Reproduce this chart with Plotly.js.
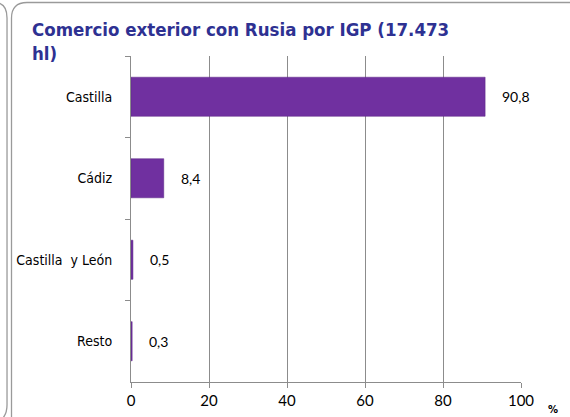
<!DOCTYPE html>
<html>
<head>
<meta charset="utf-8">
<script src="https://cdn.plot.ly/plotly-3.0.1.min.js"></script>
<style>html,body{margin:0;padding:0;background:#fff;}#chart{width:570px;height:417px;}</style>
</head>
<body>
<div id="chart"></div>
<script>
const categories = ['Castilla', 'Cádiz', 'Castilla  y León', 'Resto'];
const shares = [90.8, 8.4, 0.5, 0.3];
const xTicks = [0, 20, 40, 60, 80, 100];

const W = 570, H = 417;
const L = 131, R = 521, T = 56, B = 382;
function px(x){ return (x - L) / (R - L); }
function py(y){ return (B - y) / (B - T); }

const labelFont = {family: 'Lato, "Liberation Sans", sans-serif', size: 14, color: '#000'};

const trace = {
  type: 'bar',
  orientation: 'h',
  y: categories,
  x: shares,
  width: 0.48,
  marker: {color: '#7030a0', line: {color: '#5b2585', width: 0.5}},
  hoverinfo: 'skip'
};

const annotations = shares.map((v, i) => ({
  x: v, y: categories[i], xref: 'x', yref: 'y',
  text: String(v).replace('.', ','),
  showarrow: false, xanchor: 'left', xshift: 15,
  font: labelFont
}));
annotations.push({
  x: px(553), y: py(409), xref: 'paper', yref: 'paper',
  text: '<b>%</b>', showarrow: false, xanchor: 'center', yanchor: 'middle',
  font: {family: '"DejaVu Sans", sans-serif', size: 10, color: '#000'}
});

function P(x, y){ return px(x).toFixed(4) + ',' + py(y).toFixed(4); }
const frame = 'M' + P(11.5, 440) + ' L' + P(11.5, 18) + ' Q' + P(11.5, 2.5) + ' ' + P(27, 2.5) + ' L' + P(600, 2.5);
const leftBox = 'M' + P(-5, 2.5) + ' Q' + P(7, 3) + ' ' + P(7, 18) + ' L' + P(7, 405) + ' Q' + P(7, 413) + ' ' + P(3, 418);

const layout = {
  width: W, height: H,
  margin: {l: L, r: W - R, t: T, b: H - B, pad: 0},
  paper_bgcolor: '#fff', plot_bgcolor: '#fff',
  showlegend: false,
  title: {
    text: 'Comercio exterior con Rusia por IGP (17.473<br>hl)',
    x: 32 / W, xref: 'container', xanchor: 'left',
    y: 1 - 36 / H, yref: 'container', yanchor: 'top',
    font: {family: '"DejaVu Sans Condensed", "DejaVu Sans", sans-serif', size: 18.5, color: '#2e3192', weight: 'bold'}
  },
  xaxis: {
    range: [0, 100], tickvals: xTicks, ticktext: xTicks.map(String),
    showgrid: true, gridcolor: '#8c8c8c', gridwidth: 1,
    showline: true, linecolor: '#8c8c8c', linewidth: 1,
    ticks: 'outside', ticklen: 5, tickcolor: '#8c8c8c',
    tickfont: {family: 'Lato, "Liberation Sans", sans-serif', size: 15, color: '#000'},
    zeroline: false, fixedrange: true
  },
  yaxis: {
    autorange: 'reversed', type: 'category',
    showgrid: false, showline: true, linecolor: '#8c8c8c', linewidth: 1,
    ticks: 'outside', tickson: 'boundaries', ticklen: 5, tickcolor: '#8c8c8c',
    ticklabelstandoff: 15,
    tickfont: {family: '"DejaVu Sans Condensed", "DejaVu Sans", sans-serif', size: 14, color: '#000'},
    zeroline: false, fixedrange: true
  },
  annotations: annotations,
  shapes: [
    {type: 'path', xref: 'paper', yref: 'paper', path: frame, line: {color: '#9a9a9a', width: 1.3}, layer: 'below'},
    {type: 'path', xref: 'paper', yref: 'paper', path: leftBox, line: {color: '#9a9a9a', width: 1.3}, layer: 'below'}
  ]
};

Plotly.newPlot('chart', [trace], layout, {displayModeBar: false, staticPlot: true});
</script>
</body>
</html>
